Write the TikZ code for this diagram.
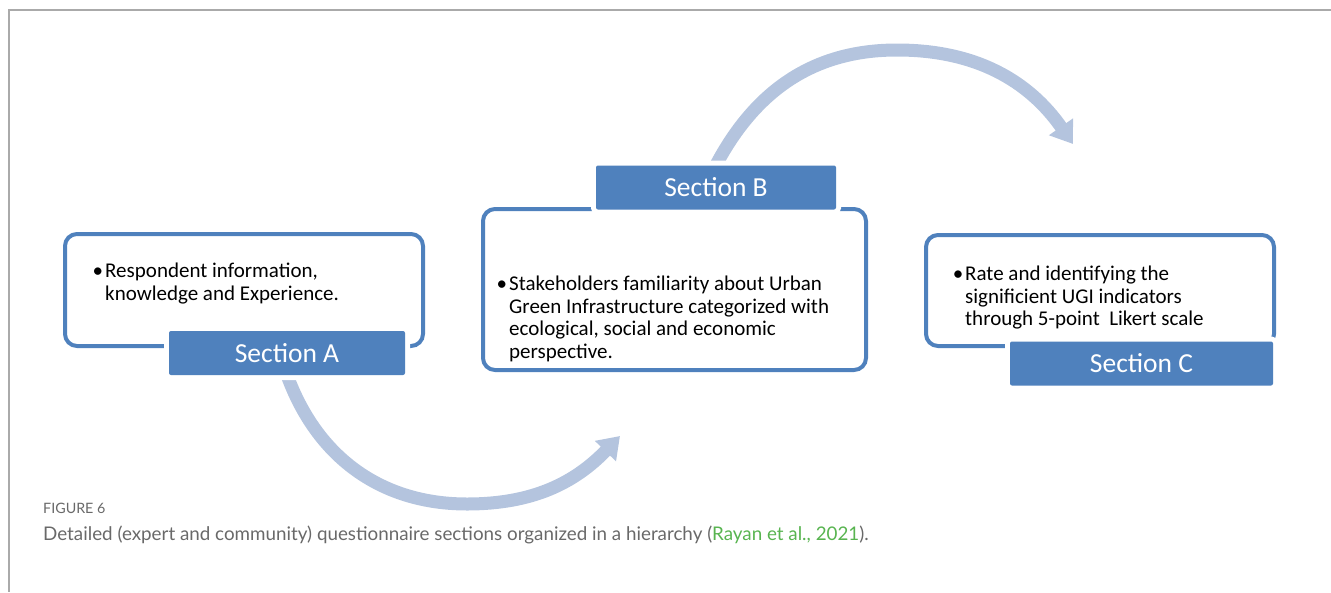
\documentclass[tikz,border=0pt]{standalone}
\usepackage{fontspec}
\setmainfont{Carlito}
\newfontfamily\capfont{Lato}
\usetikzlibrary{arrows.meta}

\definecolor{secblue}{RGB}{79,129,189}
\definecolor{arcblue}{RGB}{180,196,222}
\definecolor{framegray}{RGB}{170,170,170}
\definecolor{capgray}{RGB}{105,105,105}
\definecolor{refgreen}{RGB}{88,180,80}

\tikzset{
  secbox/.style={draw=secblue, line width=4pt, rounded corners=12pt, inner sep=0pt},
  seclabel/.style={fill=secblue, text=white, rounded corners=2pt, inner sep=0pt,
    minimum height=44pt, font=\fontsize{27.5}{30}\selectfont,
    preaction={draw=white, line width=10pt}},
  bodytext/.style={anchor=north west, inner sep=0pt, align=left,
    font=\fontsize{21}{22.5}\selectfont},
  flowarc/.style={draw=arcblue, line width=13pt,
    -{Triangle[length=21pt, width=28pt, fill=arcblue]}},
  captext/.style={anchor=base west, inner sep=0pt, text=capgray}
}
\newcommand{\bul}{\llap{\textbullet\hspace{2pt}}}

\begin{document}
\begin{tikzpicture}[x=1pt, y=1pt]
\useasboundingbox (0,0) rectangle (1331,-592);

\draw[framegray, line width=1.5pt] (8,-10) -- (1331,-10);
\draw[framegray, line width=1.5pt] (9,-10) -- (9,-592);

\coordinate (lowAB) at (467,-504);
\coordinate (tipAB) at (620,-436);
\coordinate (topBC) at (897,-50);
\coordinate (tipBC) at (1073,-144);

% boxes
\node[secbox, minimum width=358pt, minimum height=112pt] (boxA) at (244,-290) {};
\node[secbox, minimum width=383pt, minimum height=161pt] (boxB) at (674.5,-289.5) {};
\node[secbox, minimum width=348pt, minimum height=111pt] (boxC) at (1100,-290.5) {};

\node[bodytext] (txtA) at (105,-263)
  {\bul Respondent information,\\knowledge and Experience.};
\node[bodytext] (txtB) at (509,-276)
  {\bul Stakeholders familiarity about Urban\\Green Infrastructure categorized with\\ecological, social and economic\\perspective.};
\node[bodytext] (txtC) at (965,-266)
  {\bul Rate and identifying the\\signif{}icient UGI indicators\\through 5-point\ \ Likert scale};

% arcs
\draw[flowarc] (287,-375) to[out=-70, in=180] (lowAB) to[out=0, in=226] (tipAB);
\draw[flowarc] (716,-165) to[out=62, in=180] (topBC) to[out=0, in=125] (tipBC);

% section labels
\node[seclabel, minimum width=236pt] (labelA) at (287,-353) {Section A};
\node[seclabel, minimum width=240pt] (labelB) at (716,-187.5) {Section B};
\node[seclabel, minimum width=263pt] (labelC) at (1141.5,-363.5) {Section C};

% caption
\node[captext, font=\capfont\fontsize{14.3}{17}\selectfont] (fignum) at (43,-513) {FIGURE 6};
\node[captext, font=\capfont\fontsize{18.8}{22}\selectfont] (figcap) at (43,-540)
  {Detailed (expert and community) questionnaire sections organized in a hierarchy (\textcolor{refgreen}{Rayan et al., 2021}).};
\end{tikzpicture}
\end{document}
